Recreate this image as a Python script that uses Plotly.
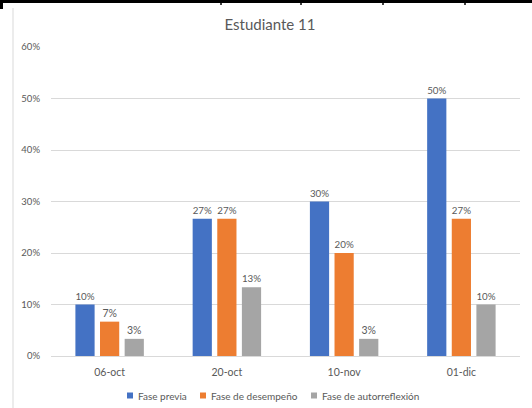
import plotly.graph_objects as go

categories = ["06-oct", "20-oct", "10-nov", "01-dic"]
fase_previa = [0.10, 0.2667, 0.30, 0.50]
fase_desempeno = [0.0667, 0.2667, 0.20, 0.2667]
fase_autorreflexion = [0.0333, 0.1333, 0.0333, 0.10]

series = [
    ("Fase previa", fase_previa, "#4472C4"),
    ("Fase de desempeño", fase_desempeno, "#ED7D31"),
    ("Fase de autorreflexión", fase_autorreflexion, "#A5A5A5"),
]

W, H = 532, 408
L, R, T, B = 51, 12, 47, 52
FONT = "Lato"
GREY = "#595959"

fig = go.Figure()
for name, vals, color in series:
    fig.add_trace(go.Bar(
        name=name, x=categories, y=vals,
        marker=dict(color=color, line=dict(width=0)),
        texttemplate="%{y:.0%}", textposition="outside",
        textfont=dict(family=FONT, size=10.5, color=GREY),
        cliponaxis=False, showlegend=False,
    ))

pw, ph = W - L - R, H - T - B
def px(x):
    return (x - L) / pw
def py(y):
    return (H - B - y) / ph

# page decoration: dark rule across the top and the chart frame's left edge
shapes = [
    dict(type="rect", xref="paper", yref="paper", x0=px(-2), x1=px(W + 2),
         y0=py(0), y1=py(3), fillcolor="black", line=dict(width=0), layer="above"),
    dict(type="rect", xref="paper", yref="paper", x0=px(0), x1=px(3),
         y0=py(0), y1=py(9), fillcolor="black", line=dict(width=0), layer="above"),
    dict(type="line", xref="paper", yref="paper", x0=px(13), x1=px(13),
         y0=py(8), y1=py(H + 2), line=dict(color="#D9D9D9", width=1)),
]
for vx in [221, 301, 383, 465]:
    shapes.append(dict(type="line", xref="paper", yref="paper", x0=px(vx), x1=px(vx),
                       y0=py(0), y1=py(5), line=dict(color="black", width=1.5)))

# legend row: small colour squares followed by the series names
legend_x = [127, 200, 311]
legend_y = 395.5
annotations = []
for (name, _, color), lx in zip(series, legend_x):
    shapes.append(dict(type="rect", xref="paper", yref="paper",
                       x0=px(lx), x1=px(lx + 6), y0=py(legend_y - 3), y1=py(legend_y + 3),
                       fillcolor=color, line=dict(width=0)))
    annotations.append(dict(text=name, xref="paper", yref="paper",
                            x=px(lx + 9), y=py(legend_y), xanchor="left", yanchor="middle",
                            showarrow=False,
                            font=dict(family=FONT, size=10, color=GREY)))

fig.update_layout(
    width=W, height=H,
    margin=dict(l=L, r=R, t=T, b=B, pad=0),
    paper_bgcolor="white", plot_bgcolor="white",
    barmode="group", bargap=0.37, bargroupgap=0.22,
    font=dict(family=FONT, color=GREY, size=10),
    title=dict(text="Estudiante 11", x=270 / W, xanchor="center",
               y=1 - 25 / H, yanchor="middle",
               font=dict(family=FONT, size=15, color=GREY)),
    xaxis=dict(showgrid=False, showline=True, linecolor="#D9D9D9", linewidth=1,
               ticks="", tickfont=dict(family=FONT, size=10.5, color=GREY),
               ticklabelstandoff=6),
    yaxis=dict(range=[0, 0.6], dtick=0.1, tickformat=".0%",
               showgrid=True, gridcolor="#D9D9D9", gridwidth=1,
               zeroline=False, showline=False, ticks="",
               tickfont=dict(family=FONT, size=9.5, color=GREY),
               ticklabelstandoff=10),
    showlegend=False,
    shapes=shapes,
    annotations=annotations,
)

fig.write_html("out.html")
